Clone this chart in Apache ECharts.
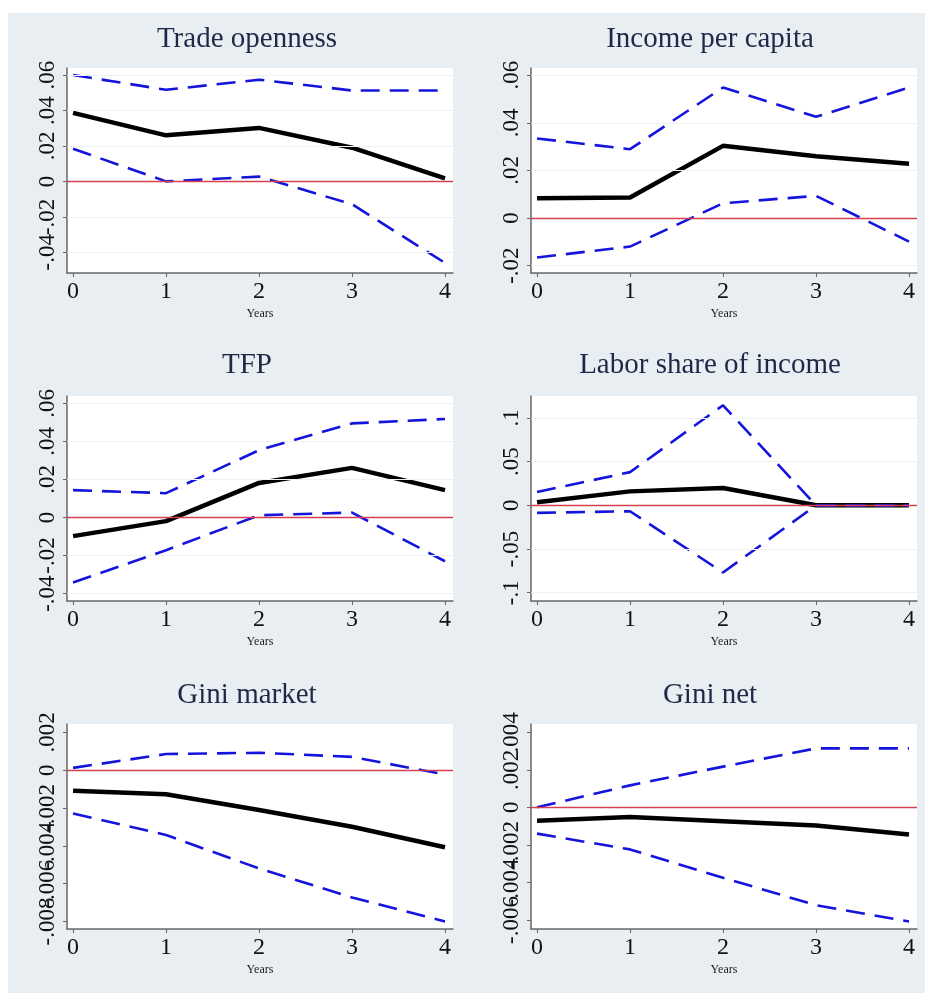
<!DOCTYPE html>
<html>
<head>
<meta charset="utf-8">
<title>Impulse responses</title>
<script src="https://cdn.jsdelivr.net/npm/echarts@6/dist/echarts.min.js"></script>
<style>
  html, body { margin: 0; padding: 0; background: #fff; }
  #main { width: 925px; height: 993px; }
</style>
</head>
<body>
<div id="main"></div>
<script>
// horizon (x axis)
var years = [0, 1, 2, 3, 4];

// Trade openness
var tradeMean = [0.0387, 0.026, 0.0302, 0.019, 0.0017];
var tradeHi = [0.06, 0.0517, 0.0574, 0.0513, 0.0513];
var tradeLo = [0.0184, 0.0, 0.0027, -0.0129, -0.046];
var tradeTicks = [-0.04, -0.02, 0, 0.02, 0.04, 0.06];

// Income per capita
var incomeMean = [0.0083, 0.0086, 0.0303, 0.0259, 0.0228];
var incomeHi = [0.0334, 0.0289, 0.0548, 0.0425, 0.0548];
var incomeLo = [-0.0166, -0.012, 0.0062, 0.0093, -0.0099];
var incomeTicks = [-0.02, 0, 0.02, 0.04, 0.06];

// TFP
var tfpMean = [-0.0098, -0.0019, 0.0182, 0.0261, 0.0144];
var tfpHi = [0.0144, 0.0128, 0.0354, 0.0495, 0.0518];
var tfpLo = [-0.0342, -0.0172, 0.0012, 0.0026, -0.023];
var tfpTicks = [-0.04, -0.02, 0, 0.02, 0.04, 0.06];

// Labor share of income
var laborMean = [0.0034, 0.0159, 0.0197, 0, 0];
var laborHi = [0.0152, 0.0379, 0.1144, 0, 0];
var laborLo = [-0.0087, -0.0068, -0.0769, 0, 0];
var laborTicks = [-0.1, -0.05, 0, 0.05, 0.1];

// Gini market
var giniMktMean = [-0.00109, -0.00127, -0.00211, -0.00299, -0.00408];
var giniMktHi = [0.00012, 0.00085, 0.00092, 0.0007, -0.00023];
var giniMktLo = [-0.00229, -0.00343, -0.0052, -0.00673, -0.008];
var giniMktTicks = [-0.008, -0.006, -0.004, -0.002, 0, 0.002];

// Gini net
var giniNetMean = [-0.00071, -0.00051, -0.00074, -0.00097, -0.00145];
var giniNetHi = [0, 0.00117, 0.00217, 0.00314, 0.00314];
var giniNetLo = [-0.0014, -0.00224, -0.00375, -0.00521, -0.00608];
var giniNetTicks = [-0.006, -0.004, -0.002, 0, 0.002, 0.004];

var panels = [
  { title: "Trade openness", mean: tradeMean, hi: tradeHi, lo: tradeLo, ticks: tradeTicks, min: -0.0517, max: 0.064 },
  { title: "Income per capita", mean: incomeMean, hi: incomeHi, lo: incomeLo, ticks: incomeTicks, min: -0.0231, max: 0.063 },
  { title: "TFP", mean: tfpMean, hi: tfpHi, lo: tfpLo, ticks: tfpTicks, min: -0.0439, max: 0.0639 },
  { title: "Labor share of income", mean: laborMean, hi: laborHi, lo: laborLo, ticks: laborTicks, min: -0.1095, max: 0.125 },
  { title: "Gini market", mean: giniMktMean, hi: giniMktHi, lo: giniMktLo, ticks: giniMktTicks, min: -0.0084, max: 0.00244 },
  { title: "Gini net", mean: giniNetMean, hi: giniNetHi, lo: giniNetLo, ticks: giniNetTicks, min: -0.00648, max: 0.00444 }
];

var serif = "'Liberation Serif', 'DejaVu Serif', serif";
var lefts = [67, 531];
var tops = [68, 396, 724];
var titleCx = [242, 705];
var titleTops = [20, 346, 676];

function fmt(v) {
  var s = String(+v.toFixed(6));
  return s.replace(/^(-?)0\./, "$1.");
}

function pairs(arr) {
  return years.map(function (y, i) { return [y, arr[i]]; });
}

var grids = [], xAxes = [], yAxes = [], series = [], titles = [];

panels.forEach(function (p, i) {
  var col = i % 2, row = Math.floor(i / 2);
  var yMain = yAxes.length;
  grids.push({
    left: lefts[col], top: tops[row], width: 386, height: 205,
    show: true, backgroundColor: "#ffffff", borderWidth: 0
  });
  titles.push({
    text: p.title, left: titleCx[col], top: titleTops[row], textAlign: "center",
    textStyle: { fontFamily: serif, fontSize: 29, fontWeight: "normal", color: "#1f2947" }
  });
  xAxes.push({
    type: "value", gridIndex: i, min: -0.065, max: 4.086,
    name: "Years", nameLocation: "middle", nameGap: 35,
    nameTextStyle: { fontFamily: serif, fontSize: 12, color: "#222" },
    axisLine: { onZero: false, lineStyle: { color: "#666", width: 1.5 } },
    axisTick: { length: 4, lineStyle: { color: "#666" }, customValues: years },
    axisLabel: {
      customValues: years, fontFamily: serif, fontSize: 24, color: "#111", margin: 7,
      showMinLabel: true, showMaxLabel: true
    },
    splitLine: { show: false }
  });
  // two overlaid left axes share the tick labels so none gets dropped for overlapping
  [0, 1].forEach(function (k) {
    var sub = p.ticks.filter(function (t, j) { return j % 2 === k; });
    yAxes.push({
      type: "value", gridIndex: i, min: p.min, max: p.max, position: "left",
      axisLine: { show: k === 0, onZero: false, lineStyle: { color: "#666", width: 1.5 } },
      axisTick: { show: k === 0, length: 4, lineStyle: { color: "#666" }, customValues: p.ticks },
      axisLabel: {
        customValues: sub, rotate: 90, fontFamily: serif, fontSize: 23, color: "#111",
        margin: 8, formatter: fmt, showMinLabel: true, showMaxLabel: true, hideOverlap: false
      },
      splitLine: { show: false }
    });
  });
  // faint gridlines at the y ticks
  series.push({
    type: "line", xAxisIndex: i, yAxisIndex: yMain, data: [], silent: true, z: 1,
    markLine: {
      silent: true, symbol: "none", label: { show: false },
      lineStyle: { color: "#edf1f4", width: 1, type: "solid" },
      data: p.ticks.filter(function (t) { return t !== 0; }).map(function (t) { return { yAxis: t }; })
    }
  });
  // zero reference line
  series.push({
    type: "line", xAxisIndex: i, yAxisIndex: yMain, data: [], silent: true, z: 2,
    markLine: {
      silent: true, symbol: "none", label: { show: false },
      lineStyle: { color: "#d4404f", width: 1.3, type: "solid" },
      data: [{ yAxis: 0 }]
    }
  });
  series.push({
    type: "line", xAxisIndex: i, yAxisIndex: yMain, data: pairs(p.mean), z: 3,
    symbol: "none", lineStyle: { color: "#000", width: 4.5 }
  });
  [p.hi, p.lo].forEach(function (band) {
    series.push({
      type: "line", xAxisIndex: i, yAxisIndex: yMain, data: pairs(band), z: 4,
      symbol: "none",
      lineStyle: { color: "#1414dc", width: 2.6, type: [19, 10] }
    });
  });
});

var chart = echarts.init(document.getElementById("main"));
chart.setOption({
  animation: false,
  backgroundColor: "#ffffff",
  graphic: [{
    type: "rect", left: 8, top: 13, z: -10,
    shape: { width: 917, height: 980 },
    style: { fill: "#e9eef2" }
  }],
  title: titles,
  grid: grids,
  xAxis: xAxes,
  yAxis: yAxes,
  series: series
});
</script>
</body>
</html>
